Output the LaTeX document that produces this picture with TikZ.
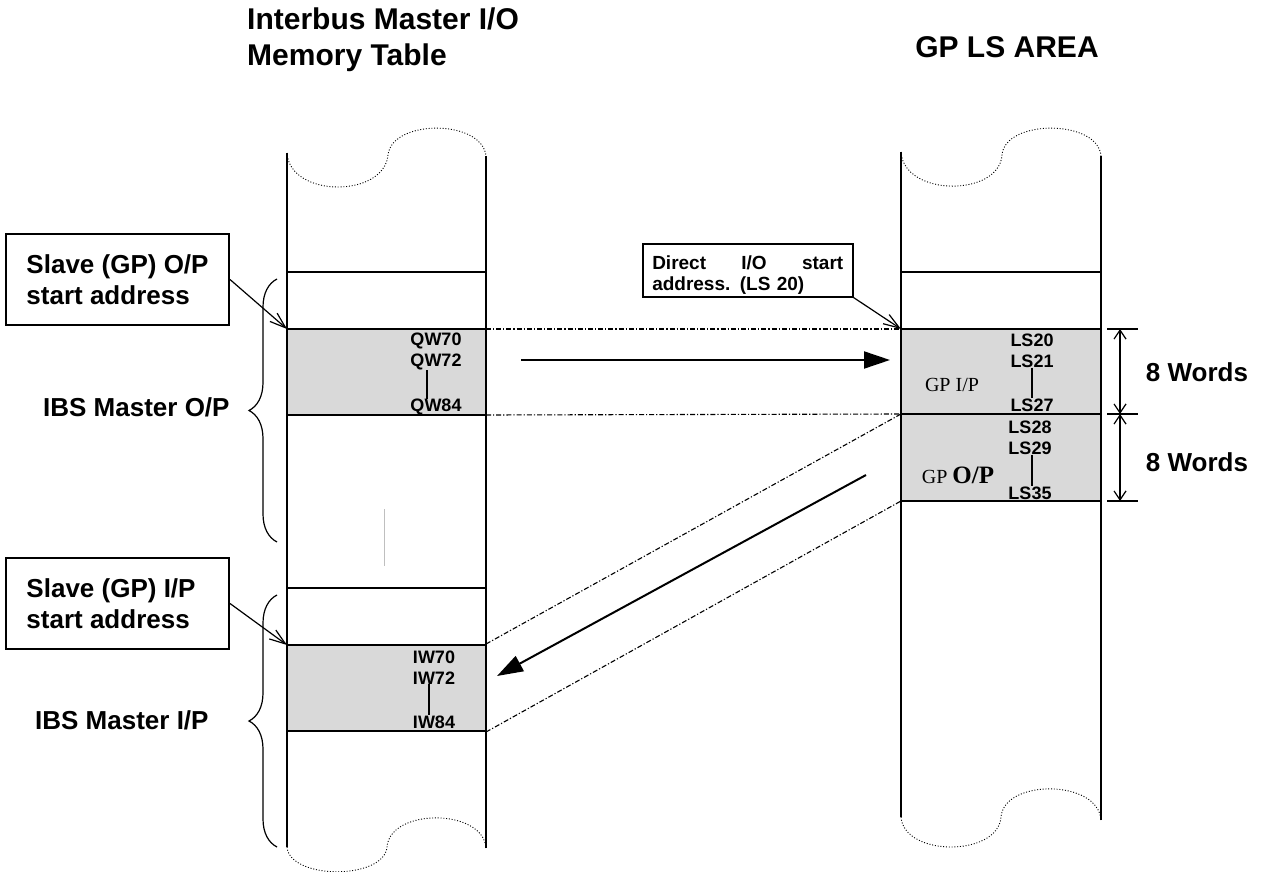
\documentclass[tikz,border=0pt]{standalone}
\usepackage{fontspec}
\setmainfont{Liberation Sans}
\newfontfamily\timesgp{Liberation Serif}
\usepackage{tikz}
\usetikzlibrary{arrows.meta, positioning, decorations.pathreplacing}

\begin{document}
\begin{tikzpicture}[x=1pt, y=-1pt,
    col/.style={line width=1.6pt},
    tear/.style={line width=0.9pt, dash pattern=on 1pt off 1.8pt},
    block/.style={fill=black!15, draw, line width=1.6pt},
    guide/.style={line width=1.1pt, dash pattern=on 5pt off 2pt on 1.2pt off 2pt},
    flow/.style={line width=2pt, -{Triangle[length=26pt,width=17pt]}},
    pointer/.style={line width=1.2pt, -{Straight Barb[length=16pt,width=11pt]}},
    span/.style={line width=1.2pt, {Straight Barb[length=9pt,width=12pt]}-{Straight Barb[length=9pt,width=12pt]}},
    brc/.style={line width=1.2pt, decorate, decoration={brace, amplitude=28pt}},
    title/.style={font=\bfseries\fontsize{30}{36}\selectfont, inner sep=0pt, align=left},
    lbl/.style={font=\bfseries\fontsize{26}{32}\selectfont, inner sep=0pt},
    addr/.style={font=\bfseries\fontsize{18}{20}\selectfont, inner sep=0pt},
    callout/.style={draw, line width=2pt, font=\bfseries\fontsize{26}{31}\selectfont, align=left,
        minimum width=223pt, minimum height=91pt, anchor=north west},
  ]
  \useasboundingbox (0,0) rectangle (1264,872);

  % titles
  \node[title, anchor=north west] (ttlibs) at (247,8) {Interbus Master I/O\\Memory Table};
  \node[title, anchor=base] (ttlgp) at (1007,58) {GP LS AREA};

  % left column (Interbus master memory)
  \draw[col] (287,153) -- (287,847);
  \draw[col] (486,156) -- (486,848);
  \draw[tear] (287,153) .. controls (290,198) and (384,198) .. (388,155)
              .. controls (392,119) and (482,119) .. (486,156);
  \draw[tear] (287,847) .. controls (290,880) and (384,880) .. (387,847)
              .. controls (390,808) and (483,808) .. (486,848);
  \draw[col] (287,272) -- (486,272);
  \draw[col] (287,588) -- (486,588);
  \filldraw[block] (287,329) rectangle (486,415);
  \filldraw[block] (287,645) rectangle (486,731);
  \draw[black!25, line width=0.6pt] (384,509) -- (384,566);

  % right column (GP LS area)
  \draw[col] (901,152) -- (901,817);
  \draw[col] (1101,156) -- (1101,820);
  \draw[tear] (901,152) .. controls (904,197) and (999,197) .. (1002,155)
              .. controls (1005,119) and (1098,119) .. (1101,156);
  \draw[tear] (901,817) .. controls (904,857) and (998,857) .. (1001,817)
              .. controls (1004,779) and (1098,779) .. (1101,820);
  \draw[col] (901,272) -- (1101,272);
  \filldraw[block] (901,329) rectangle (1101,414);
  \filldraw[block] (901,414) rectangle (1101,501);

  % block corners
  \coordinate (qTL) at (287,329);
  \coordinate (qTR) at (486,329);
  \coordinate (qBR) at (486,415);
  \coordinate (iTL) at (287,645);
  \coordinate (iTR) at (486,644);
  \coordinate (iBR) at (486,732);
  \coordinate (lsA) at (901,329);
  \coordinate (lsB) at (901,414);
  \coordinate (lsC) at (901,501);

  % dash-dot mapping lines
  \draw[guide] (qTR) -- (lsA);
  \draw[guide] (qBR) -- (lsB);
  \draw[guide] (iTR) -- (lsB);
  \draw[guide] (iBR) -- (lsC);

  % data flow arrows
  \coordinate (outS) at (521,360);
  \coordinate (outE) at (890,360);
  \coordinate (inS) at (866,475);
  \coordinate (inE) at (497,676);
  \draw[flow] (outS) -- (outE);
  \draw[flow] (inS) -- (inE);

  % word addresses
  \node[addr] (qw70) at (436,341) {QW70};
  \node[addr] (qw72) at (436,362) {QW72};
  \node[addr] (qw84) at (436,407) {QW84};
  \draw[line width=1.6pt] ([xshift=-9pt]qw72.south) -- ([xshift=-9pt]qw84.north);
  \node[addr] (iw70) at (434,657) {IW70};
  \node[addr] (iw72) at (434,678) {IW72};
  \node[addr] (iw84) at (434,722) {IW84};
  \draw[line width=1.6pt] ([xshift=-5pt]iw72.south) -- ([xshift=-5pt]iw84.north);
  \node[addr] (ls20) at (1032,340) {LS20};
  \node[addr] (ls21) at (1032,361) {LS21};
  \node[addr] (ls27) at (1032,405) {LS27};
  \draw[line width=1.6pt] (ls21.south) -- (ls27.north);
  \node[addr] (ls28) at (1030,427) {LS28};
  \node[addr] (ls29) at (1030,448) {LS29};
  \node[addr] (ls35) at (1030,493) {LS35};
  \draw[line width=1.6pt] ([xshift=2pt]ls29.south) -- ([xshift=2pt]ls35.north);
  \node[inner sep=0pt, font=\timesgp\fontsize{20}{24}\selectfont] (gpin) at (952,385) {GP I/P};
  \node[inner sep=0pt, font=\timesgp\fontsize{20}{24}\selectfont] (gpout) at (958,475)
      {GP {\bfseries\fontsize{25}{28}\selectfont O/P}};

  % word counts
  \draw[line width=1.2pt] (1107,329) -- (1138,329);
  \draw[line width=1.2pt] (1107,414) -- (1138,414);
  \draw[line width=1.2pt] (1107,501) -- (1138,501);
  \coordinate (wA) at (1120,329);
  \coordinate (wB) at (1120,414);
  \coordinate (wC) at (1120,501);
  \draw[span] (wA) -- (wB);
  \draw[span] (wB) -- (wC);
  \node[lbl] (wrd1) at (1197,372) {8 Words};
  \node[lbl] (wrd2) at (1197,462) {8 Words};

  % braces and master labels
  \draw[brc] (277,542) -- (277,279);
  \draw[brc] (277,847) -- (277,595);
  \node[lbl, anchor=base west] (mop) at (43,416) {IBS Master O/P};
  \node[lbl, anchor=base west] (mip) at (35,729) {IBS Master I/P};

  % start address callouts
  \node[callout] (slvop) at (5,233) {\makebox[182pt][l]{Slave (GP) O/P}\\start address};
  \node[callout] (slvip) at (5,557) {\makebox[182pt][l]{Slave (GP) I/P}\\start address};
  \node[draw, line width=1.5pt, anchor=north west, text width=191pt, inner xsep=9.5pt,
        inner ysep=0pt, minimum height=53pt, align=left, font=\bfseries\fontsize{19}{21}\selectfont]
      (dio) at (642,243) {\hbox to 191pt{\rule{0pt}{23pt}Direct\hfil I/O\hfil start}\\address. (LS 20)};
  \draw[pointer] (slvop.east) -- (qTL);
  \draw[pointer] (slvip.east) -- (iTL);
  \draw[pointer] (dio.south east) -- (lsA);
\end{tikzpicture}
\end{document}
